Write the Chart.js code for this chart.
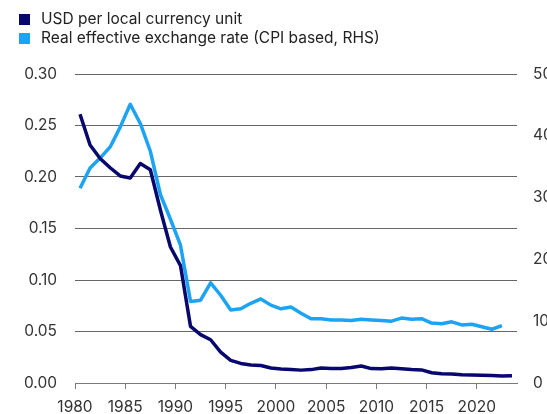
<!DOCTYPE html>
<html>
<head>
<meta charset="utf-8">
<script src="https://cdn.jsdelivr.net/npm/chart.js@4"></script>
<style>
  html, body { margin: 0; padding: 0; background: #fff; overflow: hidden; }
  #wrap { position: relative; width: 565px; height: 414px; }
  #legend { position: absolute; left: 19px; top: 9px; font: 15.5px Inter, sans-serif; color: #222; }
  #legend div { height: 19px; line-height: 19px; white-space: nowrap; }
  #legend span { display: inline-block; width: 11px; height: 11px; margin-right: 11px; vertical-align: -1px; }
</style>
</head>
<body>
<div id="wrap">
  <canvas id="chart" width="565" height="414"></canvas>
  <div id="legend"></div>
</div>
<script>
// data
var years = [1980, 1981, 1982, 1983, 1984, 1985, 1986, 1987, 1988, 1989,
             1990, 1991, 1992, 1993, 1994, 1995, 1996, 1997, 1998, 1999,
             2000, 2001, 2002, 2003, 2004, 2005, 2006, 2007, 2008, 2009,
             2010, 2011, 2012, 2013, 2014, 2015, 2016, 2017, 2018, 2019,
             2020, 2021, 2022, 2023];
var usdPerUnit = [0.261, 0.231, 0.218, 0.209, 0.201, 0.199, 0.213, 0.207, 0.168, 0.132,
                  0.114, 0.055, 0.047, 0.042, 0.030, 0.022, 0.019, 0.0175, 0.017, 0.0145,
                  0.0135, 0.013, 0.0125, 0.013, 0.0145, 0.014, 0.014, 0.015, 0.0165, 0.014,
                  0.0138, 0.0145, 0.0138, 0.013, 0.0127, 0.010, 0.009, 0.0087, 0.008, 0.0078,
                  0.0075, 0.0072, 0.0068, 0.007];
var reer = [315, 348, 364, 382, 414, 451, 420, 375, 305, 265,
            223, 132, 134, 162, 142, 118, 120, 129, 136, 126,
            120, 123, 113, 104, 104, 102, 102, 101, 103, 102,
            101, 100, 105, 103, 104, 97, 96, 99, 94, 95,
            91, 87, 93];
var seriesNames = ['USD per local currency unit', 'Real effective exchange rate (CPI based, RHS)'];
var seriesColors = ['#07076e', '#1ca3f4'];
var leftTicks = [0, 0.05, 0.10, 0.15, 0.20, 0.25, 0.30];
var rightTicks = [0, 100, 200, 300, 400, 500];
var xTicks = [1980, 1985, 1990, 1995, 2000, 2005, 2010, 2015, 2020];

// values sit in the middle of each year
function points(vals) {
  return vals.map(function (v, i) { return { x: years[i] + 0.5, y: v }; });
}

var legend = document.getElementById('legend');
seriesNames.forEach(function (name, i) {
  var row = document.createElement('div');
  var box = document.createElement('span');
  box.style.background = seriesColors[i];
  row.appendChild(box);
  row.appendChild(document.createTextNode(name));
  legend.appendChild(row);
});

var tickFont = { family: 'Inter', size: 15.5 };
var axisGrey = '#7a7a7a';

new Chart(document.getElementById('chart').getContext('2d'), {
  type: 'line',
  data: {
    datasets: [{
      label: seriesNames[0],
      data: points(usdPerUnit),
      yAxisID: 'y',
      borderColor: seriesColors[0],
      backgroundColor: seriesColors[0],
      borderWidth: 3.5,
      pointRadius: 0,
      borderJoinStyle: 'round'
    }, {
      label: seriesNames[1],
      data: points(reer),
      yAxisID: 'y1',
      borderColor: seriesColors[1],
      backgroundColor: seriesColors[1],
      borderWidth: 3.5,
      pointRadius: 0,
      borderJoinStyle: 'round'
    }]
  },
  options: {
    responsive: false,
    animation: false,
    layout: { padding: { top: 74, left: 0, right: 0, bottom: 0 } },
    plugins: { legend: { display: false }, tooltip: { enabled: false } },
    scales: {
      x: {
        type: 'linear',
        min: 1980,
        max: 2024,
        afterBuildTicks: function (s) { s.ticks = xTicks.map(function (v) { return { value: v }; }); },
        ticks: { font: tickFont, color: '#333', padding: 9, maxRotation: 0, autoSkip: false,
                 callback: function (v) { return String(v); } },
        grid: { drawOnChartArea: false, drawTicks: true, tickLength: 6, color: axisGrey },
        border: { display: true, color: axisGrey },
        afterFit: function (s) { s.height = 31; }
      },
      y: {
        position: 'left',
        min: 0,
        max: 0.3,
        afterBuildTicks: function (s) { s.ticks = leftTicks.map(function (v) { return { value: v }; }); },
        ticks: { font: tickFont, color: '#333', padding: 18,
                 callback: function (v) { return v.toFixed(2); } },
        grid: { color: function (c) { return c.tick.value === 0 ? 'rgba(0,0,0,0)' : '#666'; },
                drawTicks: false, lineWidth: 1 },
        border: { display: false },
        afterFit: function (s) { s.width = 75; }
      },
      y1: {
        position: 'right',
        min: 0,
        max: 500,
        afterBuildTicks: function (s) { s.ticks = rightTicks.map(function (v) { return { value: v }; }); },
        ticks: { font: tickFont, color: '#333', padding: 16 },
        grid: { drawOnChartArea: false, drawTicks: false },
        border: { display: false },
        afterFit: function (s) { s.width = 48; }
      }
    }
  }
});
</script>
</body>
</html>
